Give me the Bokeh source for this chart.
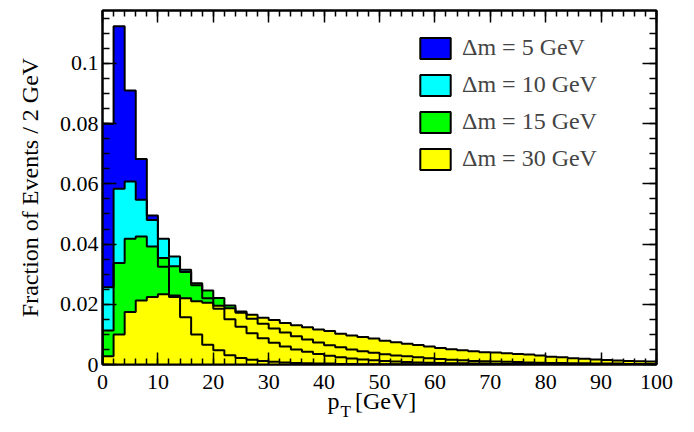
import numpy as np
from bokeh.plotting import figure
from bokeh.models import (Range1d, LinearAxis, FixedTicker, Legend, LegendItem)
from bokeh.embed import file_html
from bokeh.resources import INLINE

# ---------------- data ----------------
pt_min, pt_max, bin_width = 0, 100, 2

dm5 = [0.0800, 0.1124, 0.0910, 0.0683, 0.0495, 0.0325, 0.0224, 0.0157, 0.0100, 0.0066,
       0.0047, 0.0031, 0.0022, 0.0016, 0.0012, 0.0009, 0.0007, 0.0005, 0.0004, 0.0003,
       0.0003, 0.0002, 0.0002, 0.0001, 0.0001, 0.0001, 0.0001, 0.0001, 0.0000, 0.0000,
       0.0000, 0.0000, 0.0000, 0.0000, 0.0000, 0.0000, 0.0000, 0.0000, 0.0000, 0.0000,
       0.0000, 0.0000, 0.0000, 0.0000, 0.0000, 0.0000, 0.0000, 0.0000, 0.0000, 0.0000]

dm10 = [0.0257, 0.0584, 0.0608, 0.0547, 0.0480, 0.0418, 0.0359, 0.0315, 0.0263, 0.0220,
        0.0185, 0.0150, 0.0125, 0.0104, 0.0087, 0.0072, 0.0060, 0.0050, 0.0042, 0.0035,
        0.0029, 0.0024, 0.0020, 0.0017, 0.0014, 0.0012, 0.0010, 0.0008, 0.0007, 0.0006,
        0.0005, 0.0004, 0.0004, 0.0003, 0.0003, 0.0002, 0.0002, 0.0002, 0.0001, 0.0001,
        0.0001, 0.0001, 0.0001, 0.0001, 0.0000, 0.0000, 0.0000, 0.0000, 0.0000, 0.0000]

dm15 = [0.0113, 0.0337, 0.0418, 0.0425, 0.0392, 0.0354, 0.0326, 0.0307, 0.0270, 0.0246,
        0.0221, 0.0196, 0.0172, 0.0152, 0.0135, 0.0120, 0.0106, 0.0094, 0.0083, 0.0073,
        0.0064, 0.0057, 0.0050, 0.0044, 0.0039, 0.0034, 0.0030, 0.0027, 0.0024, 0.0021,
        0.0018, 0.0016, 0.0014, 0.0012, 0.0011, 0.0010, 0.0009, 0.0008, 0.0007, 0.0006,
        0.0005, 0.0005, 0.0004, 0.0004, 0.0003, 0.0003, 0.0003, 0.0002, 0.0002, 0.0002]

dm30 = [0.0027, 0.0100, 0.0174, 0.0213, 0.0224, 0.0233, 0.0229, 0.0220, 0.0210, 0.0205,
        0.0195, 0.0187, 0.0176, 0.0165, 0.0155, 0.0148, 0.0138, 0.0130, 0.0124, 0.0116,
        0.0111, 0.0102, 0.0096, 0.0091, 0.0086, 0.0079, 0.0074, 0.0069, 0.0065, 0.0060,
        0.0055, 0.0051, 0.0047, 0.0044, 0.0041, 0.0040, 0.0037, 0.0035, 0.0033, 0.0030,
        0.0026, 0.0024, 0.0021, 0.0019, 0.0017, 0.0015, 0.0013, 0.0012, 0.0011, 0.0010]

series = [dm5, dm10, dm15, dm30]
series_labels = ["\u0394m = 5 GeV", "\u0394m = 10 GeV", "\u0394m = 15 GeV", "\u0394m = 30 GeV"]
colors = ["#0000ff", "#00ffff", "#00ff00", "#ffff00"]

x_ticks = [0, 10, 20, 30, 40, 50, 60, 70, 80, 90, 100]
x_tick_labels = ["0", "10", "20", "30", "40", "50", "60", "70", "80", "90", "100"]
y_ticks = [0, 0.02, 0.04, 0.06, 0.08, 0.1]
y_tick_labels = ["0", "0.02", "0.04", "0.06", "0.08", "0.1"]
y_max = 0.1176

y_title = "Fraction of Events / 2 GeV"
# x title "p_T [GeV]": pieces and where (in pT units) each piece is centred
x_title_main = {41.7: "p", 51.1: "[GeV]"}
x_title_sub = {43.9: "T"}
FONT = "Liberation Serif"

# ---------------- figure ----------------
p = figure(width=686, height=428, x_range=Range1d(pt_min, pt_max), y_range=Range1d(0, y_max),
           output_backend="svg", toolbar_location=None,
           min_border_left=102, min_border_right=30, min_border_top=10, min_border_bottom=64)
p.xgrid.visible = False
p.ygrid.visible = False
p.outline_line_color = "black"
p.outline_line_width = 2
p.background_fill_color = "white"
p.border_fill_color = "white"

edges = np.arange(pt_min, pt_max + bin_width, bin_width)


def step_xy(vals):
    v = np.asarray(vals, dtype=float)
    xs = np.concatenate([[edges[0]], np.repeat(edges, 2)[1:-1], [edges[-1]]])
    ys = np.concatenate([[0.0], np.repeat(v, 2), [0.0]])
    return xs, ys


# fills first (in drawing order), then all outlines on top
for vals, col in zip(series, colors):
    xs, ys = step_xy(vals)
    p.patch(x=xs, y=ys, fill_color=col, line_color=None)
for vals in series:
    xs, ys = step_xy(vals)
    p.line(x=xs, y=ys, line_color="black", line_width=2)

# legend entries: filled boxes with black outline (renderers hold no visible data)
items = []
for lab, col in zip(series_labels, colors):
    r = p.quad(left=[np.nan], right=[np.nan], top=[np.nan], bottom=[np.nan],
               fill_color=col, line_color="black", line_width=2)
    items.append(LegendItem(label=lab, renderers=[r]))
legend = Legend(items=items, location=(314, 192), padding=0, margin=0, spacing=10,
                glyph_width=38, glyph_height=26, label_height=26, label_standoff=8,
                label_text_font=FONT, label_text_font_size="24px",
                label_text_baseline="middle",
                border_line_color=None, background_fill_alpha=0)
p.add_layout(legend)

# ---------------- axes ----------------
xt = FixedTicker(ticks=x_ticks, minor_ticks=list(range(0, 101, 2)))
yt = FixedTicker(ticks=y_ticks, minor_ticks=[round(i * 0.005, 3) for i in range(0, 24)])


def style_axis(ax, major_len, minor_len):
    ax.axis_line_color = "black"
    ax.axis_line_width = 2
    ax.major_tick_in = major_len
    ax.major_tick_out = 0
    ax.minor_tick_in = minor_len
    ax.minor_tick_out = 0
    ax.major_tick_line_width = 1.5
    ax.minor_tick_line_width = 1.5
    ax.major_tick_line_color = "black"
    ax.minor_tick_line_color = "black"


xa = p.xaxis[0]
xa.ticker = xt
style_axis(xa, 12, 6)
xa.major_label_overrides = {t: s for t, s in zip(x_ticks, x_tick_labels)}
xa.major_label_text_font = FONT
xa.major_label_text_font_size = "22px"
xa.major_label_text_color = "black"
xa.major_label_standoff = 10

ya = p.yaxis[0]
ya.ticker = yt
style_axis(ya, 14, 7)
ya.major_label_overrides = {t: s for t, s in zip(y_ticks, y_tick_labels)}
ya.major_label_text_font = FONT
ya.major_label_text_font_size = "22px"
ya.major_label_text_color = "black"
ya.major_label_standoff = 4
ya.axis_label = y_title
ya.axis_label_text_font = FONT
ya.axis_label_text_font_size = "24px"
ya.axis_label_text_font_style = "normal"
ya.axis_label_text_color = "black"
ya.axis_label_standoff = 14

top_ax = LinearAxis(ticker=xt, major_label_text_font_size="6px",
                    major_label_text_color=None, major_label_standoff=0)
style_axis(top_ax, 12, 6)
p.add_layout(top_ax, "above")
right_ax = LinearAxis(ticker=yt, major_label_text_font_size="6px",
                      major_label_text_color=None, major_label_standoff=0)
style_axis(right_ax, 14, 7)
p.add_layout(right_ax, "right")


# x-axis title pieces, drawn as labels of bare extra axes stacked below the x axis
def title_axis(pieces, size, standoff):
    ax = LinearAxis(ticker=FixedTicker(ticks=list(pieces.keys()), minor_ticks=[]),
                    major_label_overrides=dict(pieces),
                    major_label_text_font=FONT, major_label_text_font_size=size,
                    major_label_text_color="black", major_label_standoff=standoff,
                    axis_line_color=None, major_tick_line_color=None,
                    minor_tick_line_color=None, major_tick_in=0, major_tick_out=0,
                    minor_tick_in=0, minor_tick_out=0)
    p.add_layout(ax, "below")
    return ax


title_axis(x_title_main, "24px", -4)
title_axis(x_title_sub, "17px", -15)

open("out.html", "w").write(file_html(p, INLINE))
